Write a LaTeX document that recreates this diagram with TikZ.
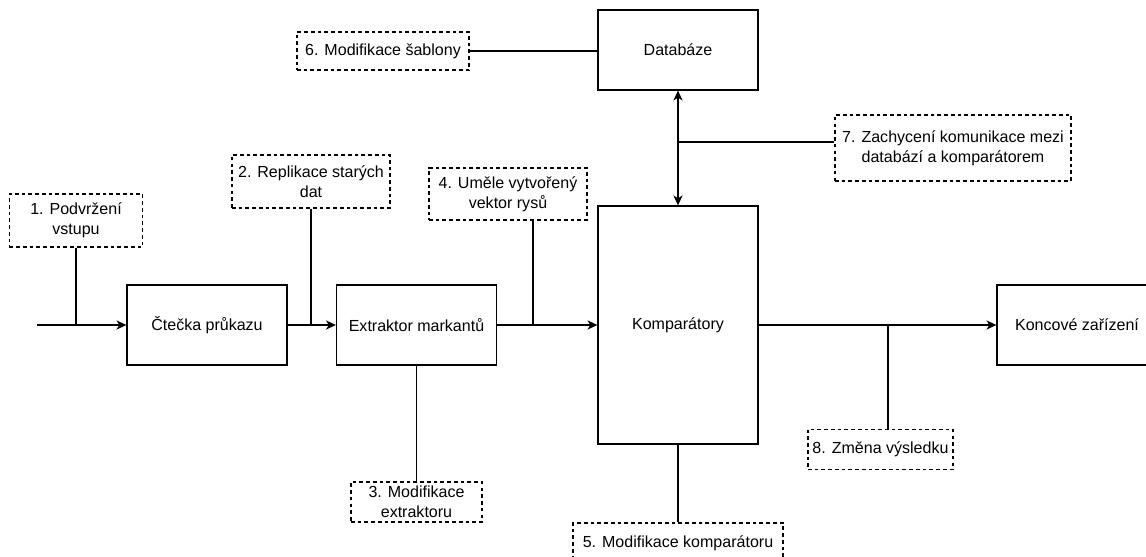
\documentclass[tikz,border=0pt]{standalone}
\usepackage{fontspec}
\setmainfont{Liberation Sans}
\usetikzlibrary{shapes, arrows.meta}
\tikzstyle{block} = [rectangle, minimum width=4cm, minimum height=2cm, text centered, draw=black, line width=0.9pt, font=\fontsize{11.4}{14.2}\selectfont]
\tikzstyle{attack} = [rectangle, minimum height=1cm, inner sep=0pt, align=center, draw=black, line width=0.9pt, dash pattern=on 2.6pt off 2.2pt, font=\fontsize{11.4}{14.2}\selectfont]
\tikzstyle{edge} = [line width=0.9pt, ->, >={Stealth[length=7pt, width=6.5pt, inset=2pt]}]
\tikzstyle{link} = [line width=0.9pt]
\begin{document}
\begin{tikzpicture}[x=0.025cm, y=-0.025cm]

\useasboundingbox (0,0) rectangle (1146,557);
\clip (0,0) rectangle (1146,557);

\node (0) [block] at (207,325) {Čtečka průkazu};
\node (1) [block] at (416.5,325) {Extraktor markantů};
\node (2) [block, minimum height=5.95cm] at (678,325) {Komparátory};
\node (3) [block] at (678,50) {Databáze};
\node (4) [block] at (1077,325) {Koncové zařízení};

\node (a1) [attack, minimum width=3.33cm, minimum height=1.33cm] at (76,220.5) {1. Podvržení\\vstupu};
\node (a2) [attack, minimum width=3.95cm, minimum height=1.33cm] at (311,181.5) {2. Replikace starých\\dat};
\node (a3) [attack, minimum width=3.28cm] at (416.5,502) {3. Modifikace\\extraktoru};
\node (a4) [attack, minimum width=3.95cm, minimum height=1.3cm] at (508,194) {4. Uměle vytvořený\\vektor rysů};
\node (a5) [attack, minimum width=5.25cm] at (678,543) {5. Modifikace komparátoru};
\node (a6) [attack, minimum width=4.3cm, minimum height=0.95cm] at (383,51) {6. Modifikace šablony};
\node (a7) [attack, minimum width=5.9cm, minimum height=1.65cm] at (953,148) {7. Zachycení komunikace mezi\\databází a komparátorem};
\node (a8) [attack, minimum width=3.63cm] at (880.5,449.5) {8. Změna výsledku};

\coordinate (in) at (37,325);
\coordinate (t4) at (533,325);
\coordinate (t7) at (678,142);
\coordinate (t8) at (888,325);

\draw [edge] (in) -- (0);
\draw [edge] (0) -- (1);
\draw [edge] (1) -- (2);
\draw [edge] (2) -- (4);
\draw [edge, <->] (3) -- (2);

\draw [link] (a1) -- (a1 |- in);
\draw [link] (a2) -- (a2 |- in);
\draw [link] (a3) -- (1);
\draw [link] (t4) -- (t4 |- a4.south);
\draw [link] (a5) -- (2);
\draw [link] (a6.east) -- (a6.east -| 3.west);
\draw [link] (t7) -- (t7 -| a7.west);
\draw [link] (t8) -- (t8 |- a8.north);

\end{tikzpicture}
\end{document}
